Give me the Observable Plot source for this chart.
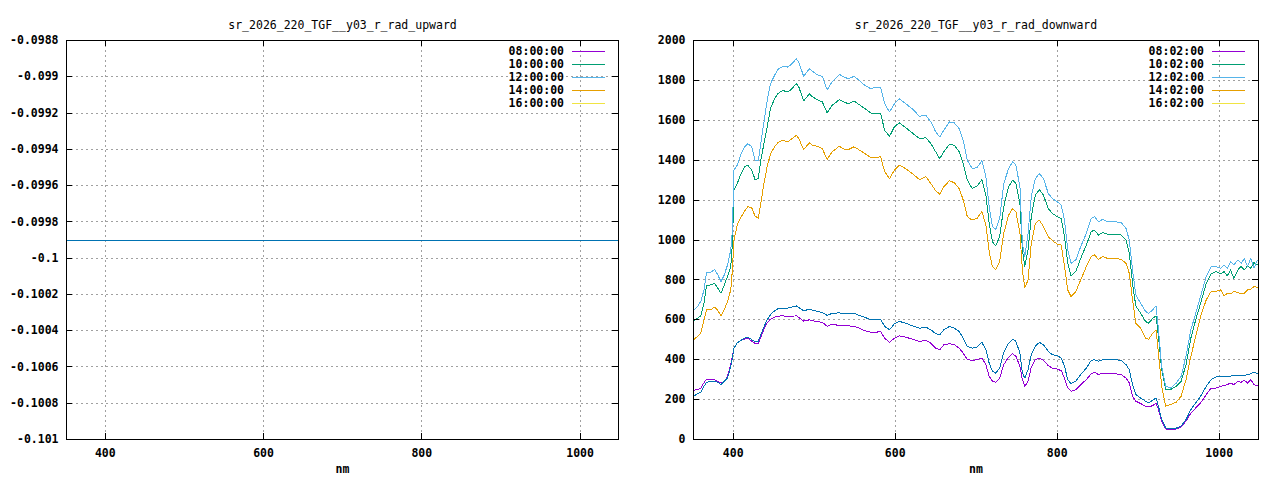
<!DOCTYPE html>
<html>
<head>
<meta charset="utf-8">
<script src="https://cdn.jsdelivr.net/npm/d3@7"></script>
<script src="https://cdn.jsdelivr.net/npm/@observablehq/plot@0.6"></script>
<style>
  html, body { margin: 0; padding: 0; background: #fff; }
  #wrap { display: flex; width: 1280px; height: 480px; }
</style>
</head>
<body>
<div id="wrap"></div>
<script>
// ---------- data ----------
const upTitle = "sr_2026_220_TGF__y03_r_rad_upward";
const downTitle = "sr_2026_220_TGF__y03_r_rad_downward";
const upTimes = ["08:00:00", "10:00:00", "12:00:00", "14:00:00", "16:00:00"];
const downTimes = ["08:02:00", "10:02:00", "12:02:00", "14:02:00", "16:02:00"];
const legendColors = ["#9400d3", "#009e73", "#56b4e9", "#e69f00", "#f0e442"];
const lineColors = ["#9400d3", "#009e73", "#56b4e9", "#e69f00", "#0072b2"];

const xTicks = [400, 600, 800, 1000];
const upYTicks = [-0.0988, -0.099, -0.0992, -0.0994, -0.0996, -0.0998, -0.1, -0.1002, -0.1004, -0.1006, -0.1008, -0.101];
const downYTicks = [0, 200, 400, 600, 800, 1000, 1200, 1400, 1600, 1800, 2000];

// upward: flat at -0.0999 for every time
const upWavelengths = [351, 1048.5];
const up08 = [-0.0999, -0.0999];
const up10 = [-0.0999, -0.0999];
const up12 = [-0.0999, -0.0999];
const up14 = [-0.0999, -0.0999];
const up16 = [-0.0999, -0.0999];

const wavelengths = [
  351, 356, 360, 364, 367, 372, 377, 381, 385, 389, 393, 397, 399, 401, 405, 409, 414, 418, 423, 427,
  431, 434, 438, 442, 446, 451, 455, 461, 467, 471, 478, 481, 487, 494, 498, 504, 510, 516, 522, 531,
  537, 542, 549, 555, 561, 570, 576, 582,
  587, 593, 599, 605, 613, 621, 630, 638, 644, 650, 655, 660, 667, 673, 679, 684, 689, 695, 701, 707,
  712, 716, 720, 724, 729, 734, 740, 745, 749, 754, 757, 760, 764, 768, 773, 778, 783, 789, 794, 800,
  805, 809, 813, 817, 823, 829, 836, 842, 846, 851, 856, 862, 871, 879, 885, 889, 893, 897, 903, 909,
  913, 918, 922, 925, 929, 934, 940, 947, 953, 959, 965, 971, 977, 984, 990, 996, 1002, 1006, 1010, 1014,
  1018, 1023, 1027, 1031, 1035, 1039, 1043, 1047
];
const down08 = [
  247, 250, 258, 285, 303, 303, 300, 290, 283, 290, 317, 375, 415, 458, 485, 495, 503, 508, 492, 482,
  480, 512, 552, 585, 603, 613, 618, 620, 617, 617, 620, 612, 593, 600, 595, 592, 587, 568, 577, 572,
  570, 570, 567, 560, 548, 537, 537, 542,
  508, 487, 508, 520, 513, 503, 492, 497, 483, 458, 450, 475, 480, 475, 458, 433, 400, 397, 400, 408,
  375, 317, 292, 287, 308, 375, 413, 430, 417, 367, 300, 267, 292, 363, 400, 408, 397, 370, 358, 353,
  345, 308, 258, 242, 250, 275, 300, 330, 337, 325, 333, 330, 330, 325, 308, 283, 217, 192, 180, 167,
  163, 170, 183, 150, 92, 53, 50, 53, 63, 92, 133, 158, 183, 225, 258, 258, 267, 270, 275, 283,
  275, 292, 287, 297, 283, 300, 275, 270
];
const down10 = [
  592, 608, 620, 683, 770, 775, 783, 758, 733, 775, 817, 867, 983, 1250, 1283, 1325, 1367, 1375, 1350, 1303,
  1308, 1400, 1483, 1567, 1658, 1708, 1733, 1750, 1742, 1753, 1783, 1767, 1697, 1733, 1717, 1703, 1692, 1637, 1675, 1703,
  1692, 1683, 1697, 1680, 1663, 1637, 1633, 1633,
  1550, 1520, 1567, 1587, 1563, 1537, 1508, 1513, 1483, 1442, 1408, 1442, 1480, 1475, 1442, 1383, 1300, 1258, 1270, 1303,
  1225, 1083, 992, 970, 1017, 1167, 1267, 1300, 1283, 1183, 950, 867, 950, 1117, 1225, 1253, 1225, 1158, 1133, 1117,
  1108, 1017, 883, 820, 842, 908, 975, 1042, 1050, 1025, 1037, 1030, 1030, 1025, 1000, 933, 783, 670, 633, 592,
  583, 608, 620, 517, 350, 250, 250, 267, 292, 375, 508, 600, 683, 783, 830, 842, 830, 842, 820, 850,
  808, 850, 867, 850, 870, 858, 887, 875
];
const down12 = [
  647, 667, 692, 750, 837, 837, 853, 825, 792, 825, 875, 950, 1050, 1350, 1375, 1425, 1467, 1483, 1467, 1400,
  1397, 1483, 1592, 1700, 1783, 1825, 1855, 1870, 1867, 1878, 1908, 1892, 1820, 1858, 1845, 1828, 1820, 1753, 1792, 1830,
  1817, 1808, 1820, 1803, 1780, 1758, 1767, 1763,
  1683, 1642, 1683, 1708, 1683, 1658, 1620, 1625, 1592, 1542, 1517, 1550, 1592, 1587, 1558, 1500, 1400, 1358, 1363, 1397,
  1317, 1167, 1067, 1053, 1108, 1283, 1358, 1392, 1375, 1267, 983, 917, 1033, 1217, 1308, 1333, 1308, 1233, 1208, 1192,
  1175, 1100, 950, 883, 900, 967, 1033, 1108, 1117, 1092, 1103, 1092, 1092, 1087, 1058, 1000, 850, 725, 683, 642,
  633, 650, 670, 550, 367, 267, 258, 283, 317, 417, 550, 633, 717, 817, 867, 867, 858, 875, 858, 892,
  875, 900, 883, 908, 867, 908, 858, 900
];
const down14 = [
  500, 517, 533, 600, 650, 650, 663, 647, 620, 650, 692, 750, 850, 1000, 1075, 1110, 1145, 1167, 1160, 1120,
  1108, 1183, 1283, 1370, 1430, 1467, 1487, 1500, 1492, 1503, 1525, 1508, 1453, 1487, 1475, 1470, 1458, 1403, 1442, 1470,
  1455, 1453, 1467, 1453, 1437, 1413, 1413, 1417,
  1342, 1308, 1350, 1375, 1358, 1333, 1303, 1317, 1283, 1247, 1230, 1267, 1297, 1287, 1258, 1200, 1117, 1100, 1108, 1142,
  1075, 942, 867, 850, 892, 1033, 1125, 1158, 1142, 1033, 850, 760, 800, 983, 1083, 1100, 1067, 1017, 997, 980,
  975, 867, 750, 717, 742, 800, 867, 917, 925, 903, 917, 908, 908, 903, 883, 833, 700, 583, 558, 508,
  503, 533, 550, 433, 267, 167, 175, 187, 217, 300, 417, 517, 617, 700, 742, 742, 750, 720, 733, 730,
  742, 737, 730, 733, 750, 753, 767, 763
];
const down16 = [
  217, 230, 237, 267, 285, 292, 292, 287, 275, 292, 308, 367, 410, 458, 485, 495, 508, 513, 500, 492,
  492, 525, 565, 600, 625, 645, 655, 658, 658, 662, 670, 662, 645, 653, 648, 642, 637, 622, 632, 635,
  630, 630, 633, 622, 615, 600, 600, 603,
  567, 550, 580, 592, 583, 570, 558, 563, 550, 530, 525, 550, 567, 558, 542, 508, 467, 458, 463, 487,
  450, 383, 342, 333, 358, 437, 483, 503, 492, 433, 333, 308, 350, 425, 467, 487, 475, 442, 425, 420,
  408, 367, 300, 280, 292, 325, 358, 397, 400, 392, 400, 400, 400, 397, 375, 350, 275, 225, 208, 192,
  183, 197, 208, 167, 100, 58, 53, 57, 67, 100, 150, 183, 217, 267, 300, 313, 317, 317, 317, 318,
  320, 320, 320, 322, 325, 330, 337, 330
];

// ---------- drawing ----------
const xDomain = [351, 1048.5];
const gridStyle = {stroke: "#a0a0a0", strokeOpacity: 1, strokeDasharray: "2,3", strokeWidth: 1, shapeRendering: "crispEdges"};

function decorations(yTicks, labels, colors) {
  return (index, scales, values, dims) => {
    const {width, height, marginLeft, marginRight, marginTop, marginBottom} = dims;
    const x0 = marginLeft, x1 = width - marginRight, y0 = marginTop, y1 = height - marginBottom;
    const g = d3.create("svg:g");
    const T = 6;
    let d = "";
    for (const t of xTicks) {
      const x = Math.round(scales.x(t)) + 0.5;
      d += `M${x},${y1}v${-T}M${x},${y0}v${T}`;
    }
    for (const t of yTicks) {
      const y = Math.round(scales.y(t)) + 0.5;
      d += `M${x0},${y}h${T}M${x1},${y}h${-T}`;
    }
    g.append("path").attr("d", d).attr("stroke", "black").attr("fill", "none")
      .attr("stroke-width", 1).attr("shape-rendering", "crispEdges");
    labels.forEach((lab, i) => {
      const y = y0 + 11 + 13 * i;
      g.append("text").attr("x", x1 - 54).attr("y", y).attr("dy", "0.36em")
        .attr("text-anchor", "end").attr("fill", "black").attr("font-weight", "bold").text(lab);
      g.append("rect").attr("x", x1 - 46).attr("width", 33)
        .attr("y", Math.round(y)).attr("height", 1)
        .attr("fill", colors[i]).attr("stroke", "none").attr("shape-rendering", "crispEdges");
    });
    return g.node();
  };
}

function panel({title, marginLeft, xs, series, yDomain, yTicks, yFormat, labels}) {
  const lines = series.map((vals, i) =>
    Plot.line(xs.map((x, j) => ({x, y: vals[j]})),
      {x: "x", y: "y", stroke: lineColors[i], strokeWidth: 1, shapeRendering: "crispEdges"})
  );
  return Plot.plot({
    width: 640,
    height: 480,
    marginLeft,
    marginRight: 22,
    marginTop: 40,
    marginBottom: 41,
    style: {fontFamily: "'DejaVu Sans Mono', monospace", fontSize: "11.5px", background: "white", color: "black"},
    x: {domain: xDomain},
    y: {domain: yDomain},
    marks: [
      Plot.gridX(xTicks, gridStyle),
      Plot.gridY(yTicks.slice(1, -1), gridStyle),
      ...lines,
      Plot.frame({stroke: "black", strokeWidth: 1, shapeRendering: "crispEdges"}),
      decorations(yTicks, labels, legendColors),
      Plot.axisY(yTicks, {anchor: "left", tickSize: 0, tickPadding: 8, tickFormat: yFormat, label: null, fontWeight: "bold"}),
      Plot.axisX(xTicks, {anchor: "bottom", tickSize: 0, tickPadding: 9, tickFormat: d => String(d), label: null, fontWeight: "bold"}),
      Plot.text([title], {frameAnchor: "top", dy: -20, fontWeight: "normal"}),
      Plot.text(["nm"], {frameAnchor: "bottom", dy: 33, fontWeight: "bold"})
    ]
  });
}

const wrap = document.getElementById("wrap");
wrap.append(panel({
  title: upTitle,
  marginLeft: 66,
  xs: upWavelengths,
  series: [up08, up10, up12, up14, up16],
  yDomain: [-0.101, -0.0988],
  yTicks: upYTicks,
  yFormat: d => String(+d.toFixed(4)),
  labels: upTimes
}));
wrap.append(panel({
  title: downTitle,
  marginLeft: 53,
  xs: wavelengths,
  series: [down08, down10, down12, down14, down16],
  yDomain: [0, 2000],
  yTicks: downYTicks,
  yFormat: d => String(d),
  labels: downTimes
}));
</script>
</body>
</html>
